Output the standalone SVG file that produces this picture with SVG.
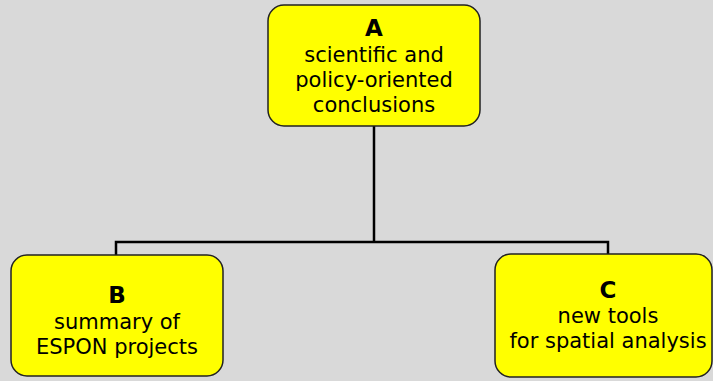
<svg xmlns="http://www.w3.org/2000/svg" width="713" height="381" viewBox="0 0 713 381">
<style>
.box{fill:#ffff00;stroke:#222;stroke-width:1.5}
.t{font-family:"DejaVu Sans",Verdana,sans-serif;font-size:21px;fill:#000;text-anchor:middle}
.b{font-weight:bold;font-size:23px}
.c{fill:none;stroke:#000;stroke-width:2.5}
</style>
<rect width="713" height="381" fill="#d9d9d9"/>
<g id="connectors">
<path class="c" d="M374 126 V242"/>
<path class="c" d="M116 255 V242 H608 V254"/>
</g>
<g id="A">
<rect class="box" x="268" y="5" width="212" height="121" rx="16"/>
<text class="t b" x="374" y="36">A</text>
<text class="t" x="374" y="62">scientific and</text>
<text class="t" x="374" y="87">policy-oriented</text>
<text class="t" x="374" y="112">conclusions</text>
</g>
<g id="B">
<rect class="box" x="11" y="255" width="212" height="121" rx="16"/>
<text class="t b" x="117" y="303">B</text>
<text class="t" x="117" y="329">summary of</text>
<text class="t" x="117" y="354">ESPON projects</text>
</g>
<g id="C">
<rect class="box" x="495" y="254" width="217" height="123" rx="16"/>
<text class="t b" x="608" y="298">C</text>
<text class="t" x="608" y="323">new tools</text>
<text class="t" x="608" y="348">for spatial analysis</text>
</g>
</svg>
